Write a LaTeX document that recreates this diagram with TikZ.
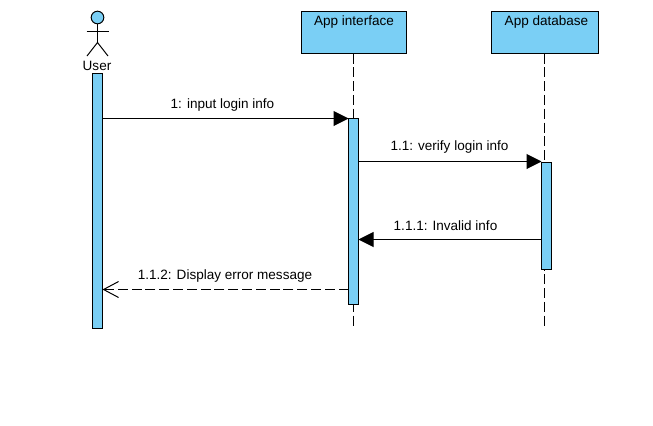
\documentclass[tikz,border=0pt]{standalone}
\usepackage{fontspec}
\setmainfont{Liberation Sans}
\usetikzlibrary{arrows.meta}
\definecolor{umlblue}{RGB}{122,207,245}
\tikzset{
  lifebox/.style={draw=black,fill=umlblue,line width=0.75pt,minimum width=78.75pt,minimum height=31.5pt,inner sep=0pt},
  lifebar/.style={draw=black,fill=umlblue,line width=0.75pt,minimum width=7.5pt,inner sep=0pt},
  lifeline/.style={line width=0.75pt,dash pattern=on 7.5pt off 2.85pt},
  callmsg/.style={line width=0.75pt,-{Triangle[length=11.25pt,width=11.25pt]}},
  backmsg/.style={line width=0.75pt,dash pattern=on 7.5pt off 2.85pt,-{Straight Barb[length=11.25pt,width=12pt]}},
  msglabel/.style={font=\fontsize{10.15pt}{12pt}\selectfont,inner sep=0pt}
}
\begin{document}
\begin{tikzpicture}[x=0.75pt,y=0.75pt,yscale=-1,xscale=1]
\useasboundingbox (0,0) rectangle (653,425);

% Lifeline heads
\node (iface) [lifebox] at (354,32.5) {};
\node (dbase) [lifebox,minimum width=80.25pt] at (545.25,32.5) {};
\node [msglabel] (ifacetext) at (354,21.5) {App interface};
\node [msglabel] (dbasetext) at (546.5,21.5) {App database};

% Lifelines
\coordinate (ifaceend) at (353.5,326);
\coordinate (dbaseend) at (544.5,326);
\draw [lifeline] (353.5,53.5) -- (ifaceend);
\draw [lifeline] (544.5,53.5) -- (dbaseend);

% Actor
\node (head) [circle,draw=black,fill=umlblue,line width=0.75pt,minimum size=9.5pt,inner sep=0pt] at (97.5,17.5) {};
\coordinate (hip) at (97.5,42.5);
\coordinate (armL) at (86.5,31.5);
\coordinate (armR) at (108.5,31.5);
\coordinate (legL) at (87,56);
\coordinate (legR) at (108,56);
\draw [line width=0.75pt] (head) -- (hip);
\draw [line width=0.75pt] (armL) -- (armR);
\draw [line width=0.75pt] (legL) -- (hip) -- (legR);
\node [msglabel] (usertext) at (97,65.5) {User};

% Activation bars
\node (userbar) [lifebar,minimum height=191.25pt] at (97.5,200.75) {};
\node (ifacebar) [lifebar,minimum height=139.5pt] at (353.5,211.5) {};
\node (dbasebar) [lifebar,minimum height=80.25pt] at (546.5,215.5) {};

% Messages
\coordinate (m1a) at (102.5,118.5);
\coordinate (m1b) at (348.5,118.5);
\coordinate (m2a) at (358.5,161.5);
\coordinate (m2b) at (541.5,161.5);
\coordinate (m3a) at (541.5,239.5);
\coordinate (m3b) at (358.5,239.5);
\coordinate (m4a) at (348.5,289.5);
\coordinate (m4b) at (102.5,289.5);
\draw [callmsg] (m1a) -- (m1b);
\draw [callmsg] (m2a) -- (m2b);
\draw [callmsg] (m3a) -- (m3b);
\draw [backmsg] (m4a) -- (m4b);

% Message labels
\node [msglabel] (m1text) at (222.5,104.5) {1: input login info};
\node [msglabel] (m2text) at (449.5,146.5) {1.1: verify login info};
\node [msglabel] (m3text) at (445.5,225.5) {1.1.1: Invalid info};
\node [msglabel] (m4text) at (225,275.5) {1.1.2: Display error message};

\end{tikzpicture}
\end{document}
